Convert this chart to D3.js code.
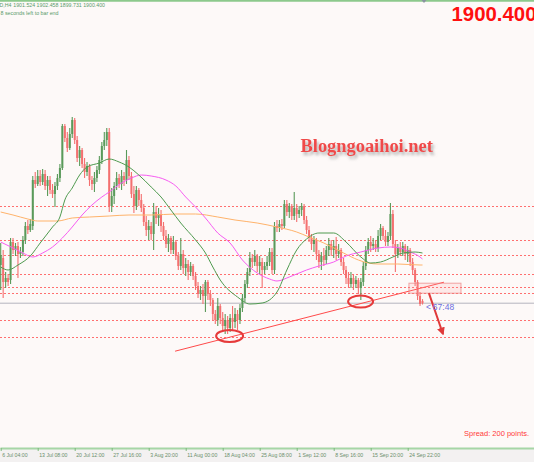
<!DOCTYPE html>
<html><head><meta charset="utf-8">
<script src="https://cdn.jsdelivr.net/npm/d3@7"></script>
<style>html,body{margin:0;padding:0;background:#fdf9f8;overflow:hidden}</style>
</head><body><svg id="c" width="534" height="462"></svg>
<script>
// ---- data ----
const timeLabels = ["6 Jul 04:00","13 Jul 08:00","20 Jul 12:00","27 Jul 16:00","3 Aug 20:00","11 Aug 00:00","18 Aug 04:00","25 Aug 08:00","1 Sep 12:00","8 Sep 16:00","15 Sep 20:00","24 Sep 22:00"];
const labelBars = [0,15,30,45,60,75,90,105,120,135,150,165];

const opens = [1919.5,1923,1911,1913,1912,1931,1927,1929,1925,1926,
1932,1939,1937,1939,1962,1960,1964,1961,1965,1959,
1962,1957,1955,1959,1963,1968,1989,1983,1978,1985,
1992,1982,1973,1977,1970,1966,1969,1962,1960,1963,
1967,1972,1979,1982,1986,1949,1954,1959,1963,1960,
1964,1962,1972,1964,1955,1949,1957,1952,1948,1941,
1937,1939,1935,1946,1943,1945,1939,1934,1930,1933,
1927,1931,1924,1919,1925,1918,1920,1916,1919,1914,
1909,1905,1907,1904,1911,1905,1902,1895,1892,1899,
1893,1889,1892,1888,1893,1891,1895,1892,1898,1903,
1910,1916,1923,1921,1924,1919,1921,1917,1919,1921,
1926,1917,1939,1938,1940,1939,1950,1946,1949,1944,
1948,1945,1947,1949,1942,1937,1933,1930,1932,1925,
1921,1924,1922,1927,1930,1927,1929,1925,1927,1921,
1917,1913,1910,1913,1910,1912,1908,1911,1919,1927,
1931,1929,1930,1928,1934,1938,1934,1931,1934,1945,
1930,1925,1928,1926,1929,1925,1927,1921,1917,1911,
1904,1901.524];
const highs = [1930.5,1927,1916,1915,1933,1933,1930.5,1931,1928.5,1934,
1941,1942,1942.5,1964,1966,1967,1967,1967.5,1967,1964,
1964,1960,1961,1965,1970,1990,1990,1986,1988,1993.5,
1993,1984,1979,1978,1973,1971,1970,1964,1966,1969,
1974,1981,1986,1988,1988,1958,1961,1966,1965,1967,
1966,1977,1974,1966,1959,1959,1958,1955,1950,1944,
1942,1941,1950.5,1949,1948,1947,1941,1937,1935,1934,
1934,1932,1926,1933,1927,1923,1922,1921,1920,1916,
1911,1909,1910,1912,1912,1907,1903,1897,1903,1900,
1896,1895,1894,1895,1899,1898,1897,1900,1905,1912,
1918,1926,1925,1927,1925,1924,1923,1921,1924,1928,
1928,1941,1942,1942,1942.5,1952,1952,1950.5,1950,1956,
1950,1949,1950.5,1950,1944,1939,1935,1934,1933,1927,
1926,1928,1929,1933,1932,1932,1933.5,1930,1928,1923,
1919,1916,1916,1915,1914,1913,1913,1921,1929,1933,
1934,1933,1932,1937,1940,1939,1937,1936,1950.5,1947,
1932,1930,1931,1931,1930,1929,1928,1923,1918,1912,
1906,1902.458];
const lows = [1907,1903,1908,1909,1910,1925,1924,1913,1923,1924,
1930,1935,1936,1937,1958,1959,1959,1959.5,1957,1954,
1955,1953,1948.5,1957,1961,1967,1981,1976,1977,1983,
1980,1971,1969,1968,1963,1964,1959,1957,1956,1961,
1965,1970,1977,1979,1946,1946,1950,1957,1958,1957,
1959,1960,1962,1953,1945.5,1947,1949,1946,1939,1934,
1932,1932,1927,1940,1939,1936,1932,1928,1926,1925,
1925,1922,1917,1917,1915,1914,1912,1914,1912,1907,
1903,1902,1900,1896,1902,1899,1892,1890,1889,1890,
1886,1885,1885,1886,1887,1888,1887,1890,1896,1901,
1908,1914,1918,1919,1916,1915,1908,1915,1917,1919,
1915,1915,1936,1936,1937,1938,1944,1943,1942,1942,
1941,1943,1944,1940,1935,1931,1927,1926,1922,1918,
1917,1919,1920,1924,1924,1923,1922,1923,1919,1915,
1910,1908,1908,1907,1908,1905,1902,1909,1917,1925,
1926,1927,1926,1926,1932,1932,1929,1929,1932,1928,
1916,1923,1924,1924,1922,1921,1919,1915,1909,1902,
1899,1899.731];
const closes = [1924.5,1911,1913,1911,1931,1927,1929,1925,1926,1932,
1939,1937,1940,1962,1960,1964,1961,1965,1959,1962,
1957,1955,1959,1963,1968,1989,1983,1978,1985,1992,
1982,1973,1977,1970,1966,1969,1962,1960,1963,1967,
1972,1979,1982,1986,1949,1954,1959,1963,1960,1964,
1962,1972,1964,1955,1949,1957,1952,1948,1941,1937,
1939,1935,1946,1943,1945,1939,1934,1930,1933,1927,
1931,1924,1919,1925,1918,1920,1916,1919,1914,1909,
1905,1907,1904,1911,1905,1902,1895,1892,1899,1893,
1889,1892,1888,1893,1891,1895,1892,1898,1903,1910,
1916,1923,1921,1924,1919,1921,1917,1919,1921,1926,
1917,1939,1938,1940,1939,1950,1946,1949,1944,1948,
1945,1947,1949,1942,1937,1933,1930,1932,1925,1921,
1924,1922,1927,1930,1927,1929,1925,1927,1921,1917,
1913,1910,1913,1910,1912,1908,1911,1919,1927,1931,
1929,1930,1928,1934,1938,1934,1931,1934,1945,1930,
1925,1928,1926,1929,1925,1927,1921,1917,1911,1904,
1900,1900.4];

// moving averages (read at sample bars)
const maGreenBars = [0,3,7,12,16,21,24,26,29,32,35,40,44,48,52,56,61,65,69,73,79,83,86,89,96,101,106,112,116,120,124,129,135,140,146,150,154,159,163,168,171];
const maGreenVals = [1918.5,1917,1919.5,1924,1930.5,1938.5,1943.5,1952,1958,1964.5,1968.5,1970.5,1972.5,1971,1968.5,1964.5,1958.5,1953.5,1947,1940.5,1932,1925.5,1918.5,1912,1903.5,1900,1900.5,1906,1917,1927,1932.5,1935.5,1935.5,1931,1923.5,1920.5,1921,1923.5,1925.5,1926,1925.5];
const maPinkBars = [0,5,9,13,17,21,25,29,33,37,41,44,49,53,57,61,67,71,75,79,83,88,93,98,104,109,112,117,124,129,135,140,146,153,158,162,166,170,171];
const maPinkVals = [1931,1928,1925.5,1923.5,1925.5,1928.5,1933,1938.5,1944.5,1949.5,1953.5,1956,1960.5,1963,1964.5,1964,1962,1959,1953.5,1948.5,1943,1935.5,1930.5,1922,1915.5,1912.5,1911.5,1913.5,1917,1919,1921,1924,1926,1928,1928.5,1928,1926,1923.5,1922.5];
const maOrangeBars = [0,5,11,15,23,29,36,44,52,61,71,79,88,95,104,112,120,125,131,139,145,149,153,161,170,171];
const maOrangeVals = [1946,1944.5,1942.5,1941.5,1941.5,1943,1943.5,1944,1944.5,1944.5,1945,1945,1943.5,1942,1940.5,1938.5,1936,1933.5,1930.5,1925.5,1922,1920.5,1920,1920,1919.5,1919.5];

const levelPrices = [1949.2,1932.2,1924.3,1915,1908.7,1905.7,1892,1883.3];
const currentPrice = 1900.4;
const ohlcText = "1901.524 1902.458 1899.731 1900.400";
const trendBars = [70.7,179.7], trendPrices = [1876.4,1910.9];
const ellipseBars = [92.8,145.9], ellipsePrices = [1884,1901.2];
const boxBars = [165.5,186.6], boxPrices = [1910.4,1905.4];
const arrowBars = [173.6,179.3], arrowPrices = [1905.4,1885];

// ---- chart ----
const W=534,H=462,PB=448;
const svg = d3.select("#c");
const x = d3.scaleLinear().domain([0,15]).range([0.7,37.7]);
const y = d3.scaleLinear().domain([1828,2052]).range([PB,0]);

const defs = svg.append("defs");
const f = defs.append("filter").attr("id","sh").attr("x","-10%").attr("y","-30%").attr("width","130%").attr("height","180%");
f.append("feDropShadow").attr("dx",2).attr("dy",3).attr("stdDeviation",1.5).attr("flood-color","#777").attr("flood-opacity",0.55);
defs.append("marker").attr("id","ah").attr("viewBox","0 0 10 10").attr("refX",8).attr("refY",5)
  .attr("markerWidth",4).attr("markerHeight",4).attr("orient","auto")
  .append("path").attr("d","M0,0L10,5L0,10z").attr("fill","#e03a3a");

svg.append("rect").attr("width",W).attr("height",PB).attr("fill","#fdf9f8");
svg.append("rect").attr("y",PB).attr("width",W).attr("height",H-PB).attr("fill","#f3f1f1");
svg.append("line").attr("x1",0).attr("x2",W).attr("y1",0.8).attr("y2",0.8).attr("stroke","#8cc98c").attr("stroke-width",1.8);

// levels
svg.append("g").selectAll("line").data(levelPrices).join("line")
  .attr("x1",0).attr("x2",W).attr("y1",d=>Math.round(y(d))+0.5).attr("y2",d=>Math.round(y(d))+0.5)
  .attr("stroke","#ff6f6f").attr("stroke-width",1).attr("stroke-dasharray","2,2");
svg.append("line").attr("x1",0).attr("x2",W).attr("y1",y(currentPrice)).attr("y2",y(currentPrice))
  .attr("stroke","#b4b4be").attr("stroke-width",1);

// candles
const bars = d3.range(closes.length).map(i=>({i,o:opens[i],h:highs[i],l:lows[i],c:closes[i]}));
const up="#5a9a5a", dn="#f47070";
const cg = svg.append("g");
cg.selectAll("line").data(bars).join("line")
  .attr("x1",d=>x(d.i)).attr("x2",d=>x(d.i)).attr("y1",d=>y(d.h)).attr("y2",d=>y(d.l))
  .attr("stroke",d=>d.c>=d.o?up:dn).attr("stroke-width",1.1);
cg.selectAll("rect").data(bars).join("rect")
  .attr("x",d=>x(d.i)-1).attr("width",2)
  .attr("y",d=>y(Math.max(d.o,d.c))).attr("height",d=>Math.max(1,Math.abs(y(d.o)-y(d.c))))
  .attr("fill",d=>d.c>=d.o?up:dn);

// MAs
function ma(bs,vs,col){
  const pts = bs.map((b,k)=>[b,vs[k]]);
  svg.append("path").attr("d",d3.line().x(d=>x(d[0])).y(d=>y(d[1])).curve(d3.curveMonotoneX)(pts))
    .attr("fill","none").attr("stroke",col).attr("stroke-width",1);
}
ma(maOrangeBars,maOrangeVals,"#ffb36b");
ma(maPinkBars,maPinkVals,"#f75cf2");
ma(maGreenBars,maGreenVals,"#4f9a4f");

// annotations
svg.append("line").attr("x1",x(trendBars[0])).attr("y1",y(trendPrices[0])).attr("x2",x(trendBars[1])).attr("y2",y(trendPrices[1]))
  .attr("stroke","#ff4a4a").attr("stroke-width",1);
svg.selectAll("ellipse").data(ellipseBars).join("ellipse")
  .attr("cx",d=>x(d)).attr("cy",(d,k)=>y(ellipsePrices[k])).attr("rx",(d,k)=>k?12.5:13.5).attr("ry",6)
  .attr("fill","none").attr("stroke","#e63a3a").attr("stroke-width",2);
svg.append("rect").attr("x",x(boxBars[0])).attr("y",y(boxPrices[0])).attr("width",x(boxBars[1])-x(boxBars[0])).attr("height",y(boxPrices[1])-y(boxPrices[0]))
  .attr("fill","rgba(255,160,160,0.18)").attr("stroke","rgba(235,130,130,0.7)").attr("stroke-width",1);
svg.append("line").attr("x1",x(arrowBars[0])).attr("y1",y(arrowPrices[0])).attr("x2",x(arrowBars[1])).attr("y2",y(arrowPrices[1]))
  .attr("stroke","#e03a3a").attr("stroke-width",2).attr("marker-end","url(#ah)");
svg.append("text").attr("x",x(172.4)).attr("y",y(1897)).text("<").attr("font-family","Liberation Sans").attr("font-size",8.5).attr("fill","#6d6de0");
svg.append("text").attr("x",x(175.2)).attr("y",y(1897)).text("67:48").attr("font-family","Liberation Sans").attr("font-size",8.5).attr("fill","#6d6de0");

// axis
const xa = x.copy().domain([x.invert(0),x.invert(W)]).range([0,W]);
const ax = svg.append("g").attr("transform",`translate(0,${PB})`)
  .call(d3.axisBottom(xa).tickValues(labelBars).tickFormat((d,k)=>timeLabels[k]).tickSize(3).tickSizeOuter(0));
ax.select(".domain").attr("stroke","#a6d6a6").attr("stroke-width",1.8);
ax.selectAll(".tick line").attr("stroke","#7dbb7d");
ax.selectAll(".tick text").attr("text-anchor","start").attr("x",1).attr("y",8.6).attr("dy",0)
  .attr("font-family","Liberation Sans").attr("font-size",5.2).attr("fill","#6b8f6b");

// texts
const t = (s,xx,yy,sz,col,extra)=>{const e=svg.append("text").attr("x",xx).attr("y",yy).text(s).attr("font-family","Liberation Sans").attr("font-size",sz).attr("fill",col); if(extra) extra(e); return e;};
t("XAUUSD,H4",11.5,6.8,5.24,"#5a9a6a",e=>e.attr("text-anchor","end"));
t(ohlcText,13.3,6.8,5.24,"#5a9a6a");
t("8 seconds left to bar end",0.5,14.5,5.3,"#5a9a6a");
t("1900.400",451.5,20.8,20.4,"#ff1010",e=>e.attr("font-weight","bold"));
t("Spread: 200 points.",464,436,7.5,"#ff3a3a");
svg.append("text").attr("x",300.5).attr("y",151.7).text("Blogngoaihoi.net")
  .attr("font-family","Liberation Serif").attr("font-weight","bold").attr("font-size",18.4)
  .attr("fill","#f04a4a").attr("filter","url(#sh)");
svg.append("path").attr("d","M421.5,0L426.5,0L424,3z").attr("fill","#8a94a0");
</script></body></html>
